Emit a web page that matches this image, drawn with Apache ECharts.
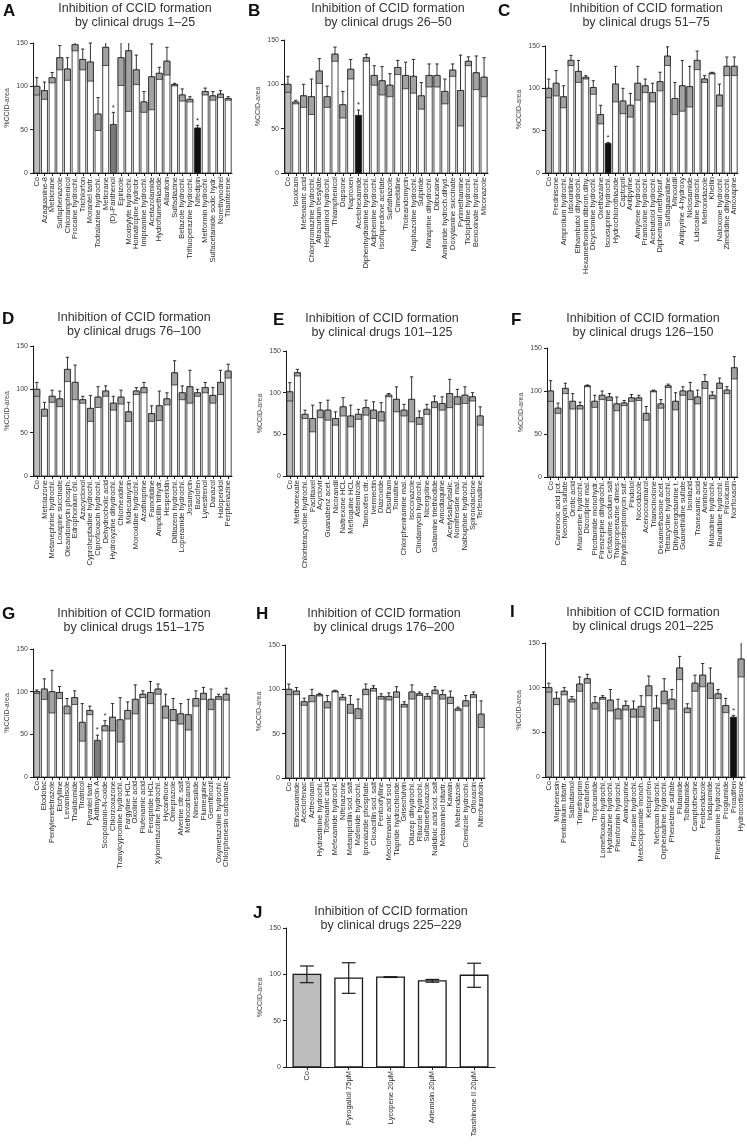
<!DOCTYPE html>
<html><head><meta charset="utf-8">
<script src="https://cdn.jsdelivr.net/npm/echarts@6/dist/echarts.min.js"></script>
<style>html,body{margin:0;padding:0;background:#fff}#c{width:747px;height:1146px}</style>
</head><body><div id="c"></div>
<script>
// ---------- DATA ----------
const yTicks = [0, 50, 100, 150];
const namesA = ['Co','Azaguanine-8','Mebicrane','Sulfaphenazole','Chloramphenicol','Procaine hydrochl.','Trichlorfon','Morantel tartr.','Todralazine hydrochl.','Meticrane','(D)-Panthenol','Epirizole','Moxisylyte hydrochl.','Homatropine hydrobr.','Imipramine hydrochl.','Acetazolamide','Hydroflumethiazide','Allantoin','Sulfadiazine','Betazole hydrochl.','Trifluoperazine hydrochl.','Nifedipin','Metformin hydrochl.','Sulfacetamide sodic hydr.','Norethynodrel','Triamterene'];
const meanA = [100,95,110,133,120,148,131,128,68,145,56,133,141,119,82,111,115,129,102,90,85,52,94,89,91,86];
const sdA = [10,10,6,14,13,7,12,22,19,21,14,32,70,17,12,38,7,16,1.5,7,3,3,4,5,4,2];
const blackA = [21], darkA = [10], starA = [10,21];

const namesB = ['Co','Isoxicam','Mefenamic acid','Chlorpromazine hydrochl.','Atracurium besylate','Heptaminol hydrochl.','Thiamphenicol','Dapsone','Naproxen','Acetohexamide','Diphenhydramine hydrochl.','Adiphenine hydrochl.','Isoflupredone acetate','Sulfathiazole','Cimetidine','Troleandomycin','Naphazoline hydrochl.','Sulpiride','Minaprine dihydrochl.','Dibucaine','Amiloride hydroch.dihyd.','Doxylamine succinate','Pyrimethamine','Ticlopidine hydrochl.','Benoxinate hydrochl.','Miconazole'];
const meanB = [100,80,87,86,115,86,134,77,117,65,130,110,104,99,119,110,109,87,110,110,92,116,93,126,113,108];
const sdB = [9,2,13,20,14,12,8,15,11,6,4,11,16,13,8,15,19,15,13,13,14,7,40,5,19,22];
const blackB = [9], darkB = [], starB = [9];

const namesC = ['Co','Prednisone','Amprolium hydrochl.','Idoxuridine','Ethambutol dihydrochl.','Hexamethonium dibrom.dihy.','Dicyclomine hydrochl.','Oxethazaine','Isoxsuprine hydrochl.','Hydrochlorothiazide','Captopril','Antipyrine','Amylene hydrochl.','Pramoxine hydrochl.','Acebutolol hydrochl.','Diphemanil methylsulf.','Sulfaguanidine','Minoxidil','Antipyrine 4-hydroxy','Niclosamide','Lidocaine hydrochl.','Metronidazole','Khellin','Naloxone hydrochl.','Zimelidine dihydrochl.','Amoxapine'];
const meanC = [100,106,90,133,120,113,101,69,35,105,85,80,106,103,95,108,138,88,103,102,133,111,118,92,126,126];
const sdC = [11,15,13,6,13,2,8,11,1,21,15,14,20,8,11,11,11,19,30,24,11,4,1,13,11,11];
const blackC = [8], darkC = [], starC = [8];

const namesD = ['Co','Metolazone','Metanephrine hydrochl.','Loxapine succinate','Oleandomycin phosph.','Edrophonium chl.','Azacyclonol','Cyproheptadine hydrochl.','Ciprofloxacin hydrochl.','Dehydrocholic acid','Hydroxyzine dihydrochl.','Chlorhexidine','Midecamycin','Moroxidine hydrochl.','Azathioprine','Famotidine','Ampicillin trihydr.','Hesperidin','Diltiazem hydrochl.','Loperamide hydrochl.','Josamycin','Baclofen','Lynestrenol','Danazol','Haloperidol','Perphenazine'];
const meanD = [100,77,92,89,123,108,88,78,91,98,84,91,74,98,102,72,81,89,119,96,103,96,102,93,108,121];
const sdD = [8,8,7,9,14,20,4,15,12,6,8,8,11,4,6,9,17,7,14,8,19,4,6,9,14,8];
const blackD = [], darkD = [], starD = [];

const namesE = ['Co','Methotrexate','Chlortetracycline hydrochl.','Paclitaxel','Acyclovir','Guanabenz acet.','Nicorandil','Naltrexone HCL','Mefloquine HCL','Astemizole','Tamoxifen citr.','Ivermectin','Diazoxide','Disulfiram','Tomatine','Chlorpheniramine mal.','Isoconazole','Clindamycin hydrochl.','Nicergoline','Gallamine triethiodide','Amodiaquine','Acetylsalicylsalic.','Nomifensine mal.','Nalbuphine hydrochl.','Spironolactone','Terfenadine'];
const meanE = [101,124,74,69,79,79,69,83,72,74,82,79,77,97,92,79,92,70,80,89,87,99,95,97,95,72];
const sdE = [11,4,5,16,9,12,8,11,13,6,9,10,11,2,15,7,27,8,6,7,8,17,9,10,5,11];
const blackE = [], darkE = [], starE = [];

const namesF = ['Co','Canrenoic acid pot.','Neomycin sulfate','Orotic acid','Mianserine hydrochl.','Dizocilpine mal.','Picotamide monohydr.','Pirenzepine dihydrochl.','Cefotaxime sodium salt','Thioproperazine dimes.','Dihydrostreptomycin sulf.','Pindolol','Nocodazole','Acenocoumarol','Triamcinolone','Dexamethasone acet.','Tetracycline hydrochl.','Dihydroergotamine t.','Guanethidine sulfate','Isoniazid','Tranexamic acid','Amrinone','Midodrine hydrochl.','Ranitidine hydrochl.','Piroxicam','Norfloxacin'];
const meanF = [100,80,103,88,83,106,88,95,93,85,86,92,92,74,100,85,106,88,100,100,93,111,95,109,101,127];
const sdF = [12,6,6,9,4,1,7,5,4,8,3,4,3,8,1,5,2,10,5,10,8,8,4,6,4,13];
const blackF = [], darkF = [], starF = [];

const namesG = ['Co','Etodolac','Pentylenetetrazole','Etofylline','Levamisole','Thalidomide','Tiratricol','Pyrantel tartr.','Antimycin A','Scopolamin-N-oxide','Chlorzoxazone','Tranylcypromine hydrochl.','Pargyline HCL','Oxolinic acid','Flufenamic acid','Fenspiride HCL','Xylometazoline hydrochl.','Hycanthone','Omeprazole','Alverine citr. salt','Methocarbamol','Nimesulide','Flumequine','Gemfibrozil','Oxymetazoline hydrochl.','Chlorphenesin carbamate'];
const meanG = [100,103,100,99,83,93,64,78,43,60,70,67,78,91,97,99,103,83,79,74,73,92,98,91,94,97];
const sdG = [2,12,25,7,9,8,22,5,6,6,16,26,10,17,4,13,6,14,13,12,18,9,7,12,3,7];
const blackG = [], darkG = [8], starG = [8,9];

const namesH = ['Co','Ethosuximide','Aceclofenac','Aztreonam','Hydrastinine hydrochl.','Tolfenamic acid','Mefexamide hydrochl.','Nifenazone','Metampicillin sod. salt','Mafenide hydrochl.','Iproniazide phosphate','Cloxacillin sod. salt','Pentoxifylline','Meclofenamic acid sod.','Tiapride hydrochloride','Griseofulvin','Dilazep dihydrochl.','Riluzole hydrochl.','Sulfamethoxazole','Nalidixic acid sod. salt','Metaraminol bitartr.','Kawain','Mebendazole','Clemizole hydrochl.','Ofloxacin','Nitrofurantoin'];
const meanH = [100,98,86,93,94,86,98,91,83,78,100,101,92,92,97,83,97,95,92,99,94,91,78,87,94,72];
const sdH = [6,4,4,7,1.5,7,1,3,10,11,6,3,3,4,6,3,8,2,3,4,5,7,2,6,3,15];
const blackH = [], darkH = [], starH = [];

const namesI = ['Co','Mephenesin','Pentolinium bitartr.','Salbutamol','Trimethoprim','Fenbufen','Tropicamide','Lomefloxacin hydrochl.','Hydralazine hydrochl.','Phenformin hydrochl.','Aminopurine','Prilocaine hydrochl.','Metoclopramide monoh.','Ketoprofen','Nefopam hydrochl.','Orphenadrine hydrochl.','Phenelzine sulfate','Flutamide','Tolbutamide','Camptothecine','Fenbendazole','Indapamide','Phentolamine hydrochl.','Proglumide','Proadifen','Hydrocortisone'];
const meanI = [100,88,96,87,104,110,83,89,86,76,80,76,79,102,77,96,87,122,77,105,114,105,93,80,67,132];
const sdI = [5,7,4,3,8,5,7,2,12,11,5,9,12,11,14,14,11,13,5,9,13,17,5,8,2,20];
const blackI = [24], darkI = [], starI = [24];

const namesJ = ['Co','Pyrogallol 75μM','Lycopene 20μM','Artemisin 20μM','Tanshinone II 20μM'];
const meanJ = [100,96,97,93,99];
const sdJ = [9,16.5,0.4,1.5,13];
const blackJ = [], darkJ = [], starJ = [];

const titlesL1 = 'Inhibition of CCID formation';
const ranges = ['1–25','26–50','51–75','76–100','101–125','126–150','151–175','176–200','201–225','225–229'];
const letters = ['A','B','C','D','E','F','G','H','I','J'];

// ---------- LAYOUT ----------
const panels = [
  {n:namesA,m:meanA,s:sdA,b:blackA,d:darkA,st:starA, g:{left:33,top:43,width:199,height:130}, t:{x:135,y:2}, L:{x:3,y:3}},
  {n:namesB,m:meanB,s:sdB,b:blackB,d:darkB,st:starB, g:{left:284,top:40,width:204,height:133}, t:{x:388,y:2}, L:{x:248,y:3}},
  {n:namesC,m:meanC,s:sdC,b:blackC,d:darkC,st:starC, g:{left:545,top:46,width:193,height:127}, t:{x:646,y:2}, L:{x:498,y:3}},
  {n:namesD,m:meanD,s:sdD,b:blackD,d:darkD,st:starD, g:{left:33,top:346,width:199,height:130}, t:{x:134,y:311}, L:{x:2,y:311}},
  {n:namesE,m:meanE,s:sdE,b:blackE,d:darkE,st:starE, g:{left:286,top:351,width:198,height:125}, t:{x:382,y:312}, L:{x:273,y:312}},
  {n:namesF,m:meanF,s:sdF,b:blackF,d:darkF,st:starF, g:{left:547,top:348,width:191,height:129}, t:{x:643,y:312}, L:{x:511,y:312}},
  {n:namesG,m:meanG,s:sdG,b:blackG,d:darkG,st:starG, g:{left:33,top:649,width:197,height:128}, t:{x:134,y:607}, L:{x:2,y:606}},
  {n:namesH,m:meanH,s:sdH,b:blackH,d:darkH,st:starH, g:{left:285,top:645,width:200,height:133}, t:{x:384,y:607}, L:{x:256,y:606}},
  {n:namesI,m:meanI,s:sdI,b:blackI,d:darkI,st:starI, g:{left:545,top:643,width:200,height:134}, t:{x:643,y:606}, L:{x:510,y:604}},
  {n:namesJ,m:meanJ,s:sdJ,b:blackJ,d:darkJ,st:starJ, g:{left:286,top:928,width:209,height:139}, t:{x:391,y:905}, L:{x:253,y:905}, full:true}
];

const FONT = '"Liberation Sans", Arial, Helvetica, sans-serif';
const YMAX = 150;
const fills = ['#ffffff', '#bdbdbd', '#111111', '#7a7a7a'];

function renderItem(params, api) {
  const cat = api.value(0), mean = api.value(1), sd = api.value(2);
  const kind = api.value(3), full = api.value(4), star = api.value(5);
  const cw = api.size([1, 0])[0];
  const bw = cw * (full ? 0.66 : 0.78);
  const base = api.coord([cat, 0]);
  const top = api.coord([cat, mean]);
  const cx = base[0];
  const x0 = cx - bw / 2;
  const ch = [];
  ch.push({type:'rect', shape:{x:x0, y:top[1], width:bw, height:base[1]-top[1]},
    style:{fill: fills[kind], stroke:'#1a1a1a', lineWidth: full ? 1.3 : 0.8}});
  const hiV = Math.min(YMAX, mean + sd);
  const hiP = api.coord([cat, hiV]);
  const loP = api.coord([cat, Math.max(0, mean - sd)]);
  const capW = bw * (full ? 0.5 : 0.55);
  if (!full) {
    if (kind === 0 || kind === 1) {
      ch.push({type:'rect', shape:{x:x0, y:top[1], width:bw, height:loP[1]-top[1]},
        style:{fill:'#a2a2a2', stroke:'#1a1a1a', lineWidth:0.7}});
    }
    ch.push({type:'line', shape:{x1:cx, y1:top[1], x2:cx, y2:hiP[1]}, style:{stroke:'#1a1a1a', lineWidth:0.9}});
    if (mean + sd <= YMAX) {
      ch.push({type:'line', shape:{x1:cx-capW/2, y1:hiP[1], x2:cx+capW/2, y2:hiP[1]}, style:{stroke:'#1a1a1a', lineWidth:0.9}});
    }
  } else {
    ch.push({type:'line', shape:{x1:cx, y1:loP[1], x2:cx, y2:hiP[1]}, style:{stroke:'#1a1a1a', lineWidth:1.2}});
    ch.push({type:'line', shape:{x1:cx-capW/2, y1:hiP[1], x2:cx+capW/2, y2:hiP[1]}, style:{stroke:'#1a1a1a', lineWidth:1.2}});
    ch.push({type:'line', shape:{x1:cx-capW/2, y1:loP[1], x2:cx+capW/2, y2:loP[1]}, style:{stroke:'#1a1a1a', lineWidth:1.2}});
  }
  if (star) {
    ch.push({type:'text', x:cx, y:hiP[1]-1, style:{text:'*', fill:'#333', font:'8px ' + FONT, textAlign:'center', textVerticalAlign:'bottom'}});
  }
  return {type:'group', children: ch};
}

const grid = [], xAxis = [], yAxis = [], series = [], graphic = [];
panels.forEach((p, i) => {
  grid.push(Object.assign({containLabel:false}, p.g));
  xAxis.push({type:'category', gridIndex:i, data:p.n, boundaryGap:true,
    axisLine:{show:true, lineStyle:{color:'#1a1a1a', width:1}},
    axisTick:{show:true, alignWithLabel:true, length:3, lineStyle:{color:'#1a1a1a'}},
    axisLabel:{interval:0, rotate:90, fontSize:7.5, color:'#2a2a2a', margin:4, fontFamily:FONT}});
  yAxis.push({type:'value', gridIndex:i, min:0, max:150, interval:50,
    name:'%CCID-area', nameLocation:'middle', nameGap:22, nameRotate:90,
    nameTextStyle:{fontSize:7, color:'#444', fontFamily:FONT},
    axisLine:{show:true, lineStyle:{color:'#1a1a1a', width:1}},
    axisTick:{show:true, length:3, lineStyle:{color:'#1a1a1a'}},
    axisLabel:{fontSize:7, color:'#444', margin:5, fontFamily:FONT},
    splitLine:{show:false}});
  const data = p.n.map((nm, k) => {
    let kind = 0;
    if (k === 0) kind = 1;
    if (p.b.includes(k)) kind = 2;
    if (p.d.includes(k)) kind = 3;
    return [k, p.m[k], p.s[k], kind, p.full ? 1 : 0, p.st.includes(k) ? 1 : 0];
  });
  series.push({type:'custom', xAxisIndex:i, yAxisIndex:i, renderItem, data,
    encode:{x:0, y:1}, clip:false, silent:true, animation:false});
  graphic.push({type:'text', x:p.t.x, y:p.t.y, style:{text:titlesL1, font:'12.5px ' + FONT, fill:'#333', textAlign:'center', textVerticalAlign:'top'}});
  graphic.push({type:'text', x:p.t.x, y:p.t.y+14.5, style:{text:'by clinical drugs ' + ranges[i], font:'12.5px ' + FONT, fill:'#333', textAlign:'center', textVerticalAlign:'top'}});
  graphic.push({type:'text', x:p.L.x, y:p.L.y, style:{text:letters[i], font:'bold 17px ' + FONT, fill:'#111', textAlign:'left', textVerticalAlign:'top'}});
});

const chart = echarts.init(document.getElementById('c'), null, {renderer:'canvas'});
chart.setOption({backgroundColor:'#fff', animation:false, grid, xAxis, yAxis, series, graphic});
</script>
</body></html>
